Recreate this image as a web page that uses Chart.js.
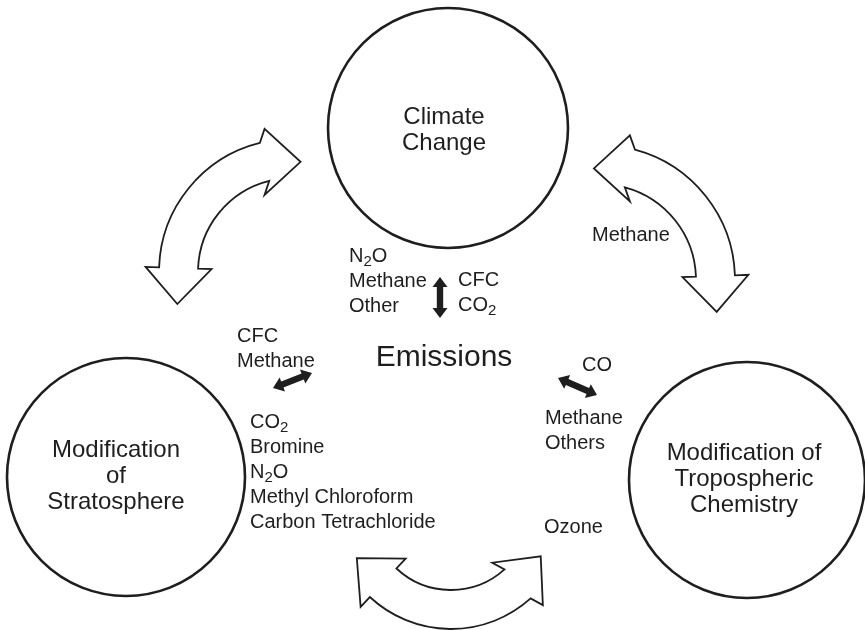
<!DOCTYPE html>
<html>
<head>
<meta charset="utf-8">
<script src="https://cdn.jsdelivr.net/npm/chart.js@4.4.0/dist/chart.umd.min.js"></script>
<style>
  html, body { margin: 0; padding: 0; background: #fff; }
  canvas { display: block; }
</style>
</head>
<body>
<canvas id="myChart" width="865" height="630"></canvas>
<script>
// diagram units run 0..865 across and 0..630 down
const nodeNames = [["Climate", "Change"], ["Modification", "of", "Stratosphere"], ["Modification of", "Tropospheric", "Chemistry"]];
const nodeX = [448, 126, 747];
const nodeY = [128, 477, 480];
const nodeR = [120, 119, 118];
const nameX = [444, 116, 744];
const nameY = [117, 450, 453];

const centerLabel = "Emissions";
const centerX = 444;
const centerY = 358;

// gas lists ("_" marks a subscript digit)
const gasLines = [
  ["N_2O", "Methane", "Other"],
  ["CFC", "CO_2"],
  ["CFC", "Methane"],
  ["CO_2", "Bromine", "N_2O", "Methyl Chloroform", "Carbon Tetrachloride"],
  ["CO"],
  ["Methane", "Others"],
  ["Ozone"],
  ["Methane"]
];
const gasX = [349, 458, 237, 250, 582, 545, 544, 592];
const gasY = [256, 280, 336, 422, 365, 418, 527, 235];

// big open curved arrows between the circles
const loopX = [292, 600, 451];
const loopY = [272, 280, 510];
const loopR = [113.5, 115.5, 99.5];
const loopFrom = [182, 285, 48];
const loopTo = [256, 358, 133];
const bendFrom = [0, 15, 8];   // head tilt in degrees
const bendTo = [14, 0, 0];

// small solid two-way arrows around "Emissions"
const linkX0 = [440, 273, 558];
const linkY0 = [277, 388, 378];
const linkX1 = [440, 312, 597];
const linkY1 = [318, 373, 395];

const FONT = '"Liberation Sans", Arial, Helvetica, sans-serif';
const INK = "#1e1e1e";

function drawRich(ctx, str, x, y, size) {
  const parts = str.split("_");
  let cx = x;
  parts.forEach((p, i) => {
    let normal = p;
    if (i > 0) {
      ctx.font = Math.round(size * 0.74) + "px " + FONT;
      ctx.fillText(p[0], cx, y + size * 0.27);
      cx += ctx.measureText(p[0]).width;
      normal = p.slice(1);
    }
    ctx.font = size + "px " + FONT;
    ctx.fillText(normal, cx, y);
    cx += ctx.measureText(normal).width;
  });
}

function rot(v, b) {
  const c = Math.cos(b), s = Math.sin(b);
  return [v[0] * c - v[1] * s, v[0] * s + v[1] * c];
}

function curvedArrow(ctx, cx, cy, r, a0, a1, w, hl, hw, b0, b1) {
  const rO = r + w / 2, rI = r - w / 2;
  const c1 = Math.cos(a1), s1 = Math.sin(a1);
  const c0 = Math.cos(a0), s0 = Math.sin(a0);
  const p1 = [cx + r * c1, cy + r * s1];
  const p0 = [cx + r * c0, cy + r * s0];
  const n1 = rot([c1, s1], b1), d1 = rot([-s1, c1], b1);
  const n0 = rot([c0, s0], -b0), d0 = rot([s0, -c0], -b0);
  ctx.beginPath();
  ctx.arc(cx, cy, rO, a0, a1, false);
  ctx.lineTo(p1[0] + n1[0] * hw, p1[1] + n1[1] * hw);
  ctx.lineTo(p1[0] + d1[0] * hl, p1[1] + d1[1] * hl);
  ctx.lineTo(p1[0] - n1[0] * hw, p1[1] - n1[1] * hw);
  ctx.lineTo(cx + rI * c1, cy + rI * s1);
  ctx.arc(cx, cy, rI, a1, a0, true);
  ctx.lineTo(p0[0] - n0[0] * hw, p0[1] - n0[1] * hw);
  ctx.lineTo(p0[0] + d0[0] * hl, p0[1] + d0[1] * hl);
  ctx.lineTo(p0[0] + n0[0] * hw, p0[1] + n0[1] * hw);
  ctx.closePath();
  ctx.fillStyle = "#fff";
  ctx.fill();
  ctx.stroke();
}

function solidArrow(ctx, x0, y0, x1, y1) {
  const L = Math.hypot(x1 - x0, y1 - y0);
  const ux = (x1 - x0) / L, uy = (y1 - y0) / L;
  const nx = -uy, ny = ux;
  const hl = 10, hw = 7.5, sw = 3.2;
  const pts = [
    [x0, y0],
    [x0 + ux * hl + nx * hw, y0 + uy * hl + ny * hw],
    [x0 + ux * hl + nx * sw, y0 + uy * hl + ny * sw],
    [x1 - ux * hl + nx * sw, y1 - uy * hl + ny * sw],
    [x1 - ux * hl + nx * hw, y1 - uy * hl + ny * hw],
    [x1, y1],
    [x1 - ux * hl - nx * hw, y1 - uy * hl - ny * hw],
    [x1 - ux * hl - nx * sw, y1 - uy * hl - ny * sw],
    [x0 + ux * hl - nx * sw, y0 + uy * hl - ny * sw],
    [x0 + ux * hl - nx * hw, y0 + uy * hl - ny * hw]
  ];
  ctx.beginPath();
  pts.forEach((p, i) => i ? ctx.lineTo(p[0], p[1]) : ctx.moveTo(p[0], p[1]));
  ctx.closePath();
  ctx.fillStyle = INK;
  ctx.fill();
}

const diagramPlugin = {
  id: "diagram",
  afterDatasetsDraw(chart) {
    const ctx = chart.ctx;
    const xs = chart.scales.x, ys = chart.scales.y;
    const px = v => xs.getPixelForValue(v);
    const py = v => ys.getPixelForValue(v);
    const k = xs.width / (xs.max - xs.min);
    const rad = Math.PI / 180;
    ctx.save();

    ctx.strokeStyle = INK;
    ctx.lineWidth = 1.8;
    ctx.lineJoin = "miter";
    loopX.forEach((x, i) => {
      curvedArrow(ctx, px(x), py(loopY[i]), loopR[i] * k,
        loopFrom[i] * rad, loopTo[i] * rad, 39 * k, 36 * k, 33 * k,
        bendFrom[i] * rad, bendTo[i] * rad);
    });

    linkX0.forEach((x, i) => solidArrow(ctx, px(x), py(linkY0[i]), px(linkX1[i]), py(linkY1[i])));

    ctx.fillStyle = INK;
    ctx.textBaseline = "middle";
    ctx.textAlign = "center";
    ctx.font = "24px " + FONT;
    nodeNames.forEach((lines, i) => {
      lines.forEach((t, j) => ctx.fillText(t, px(nameX[i]), py(nameY[i] + j * 26)));
    });

    ctx.font = "30px " + FONT;
    ctx.fillText(centerLabel, px(centerX), py(centerY));

    ctx.textAlign = "left";
    gasLines.forEach((lines, i) => {
      lines.forEach((t, j) => drawRich(ctx, t, px(gasX[i]), py(gasY[i] + j * 25), 20));
    });
    ctx.restore();
  }
};

new Chart("myChart", {
  type: "bubble",
  data: {
    datasets: [{
      data: nodeX.map((x, i) => ({ x: x, y: nodeY[i], r: nodeR[i] })),
      backgroundColor: "rgba(0,0,0,0)",
      borderColor: INK,
      borderWidth: 2.6,
      hoverBorderWidth: 2.6,
      clip: false
    }]
  },
  options: {
    responsive: false,
    animation: false,
    events: [],
    layout: { padding: 0, autoPadding: false },
    plugins: {
      legend: { display: false },
      tooltip: { enabled: false }
    },
    scales: {
      x: { type: "linear", min: 0, max: 865, display: false },
      y: { type: "linear", min: 0, max: 630, reverse: true, display: false }
    }
  },
  plugins: [diagramPlugin]
});
</script>
</body>
</html>
